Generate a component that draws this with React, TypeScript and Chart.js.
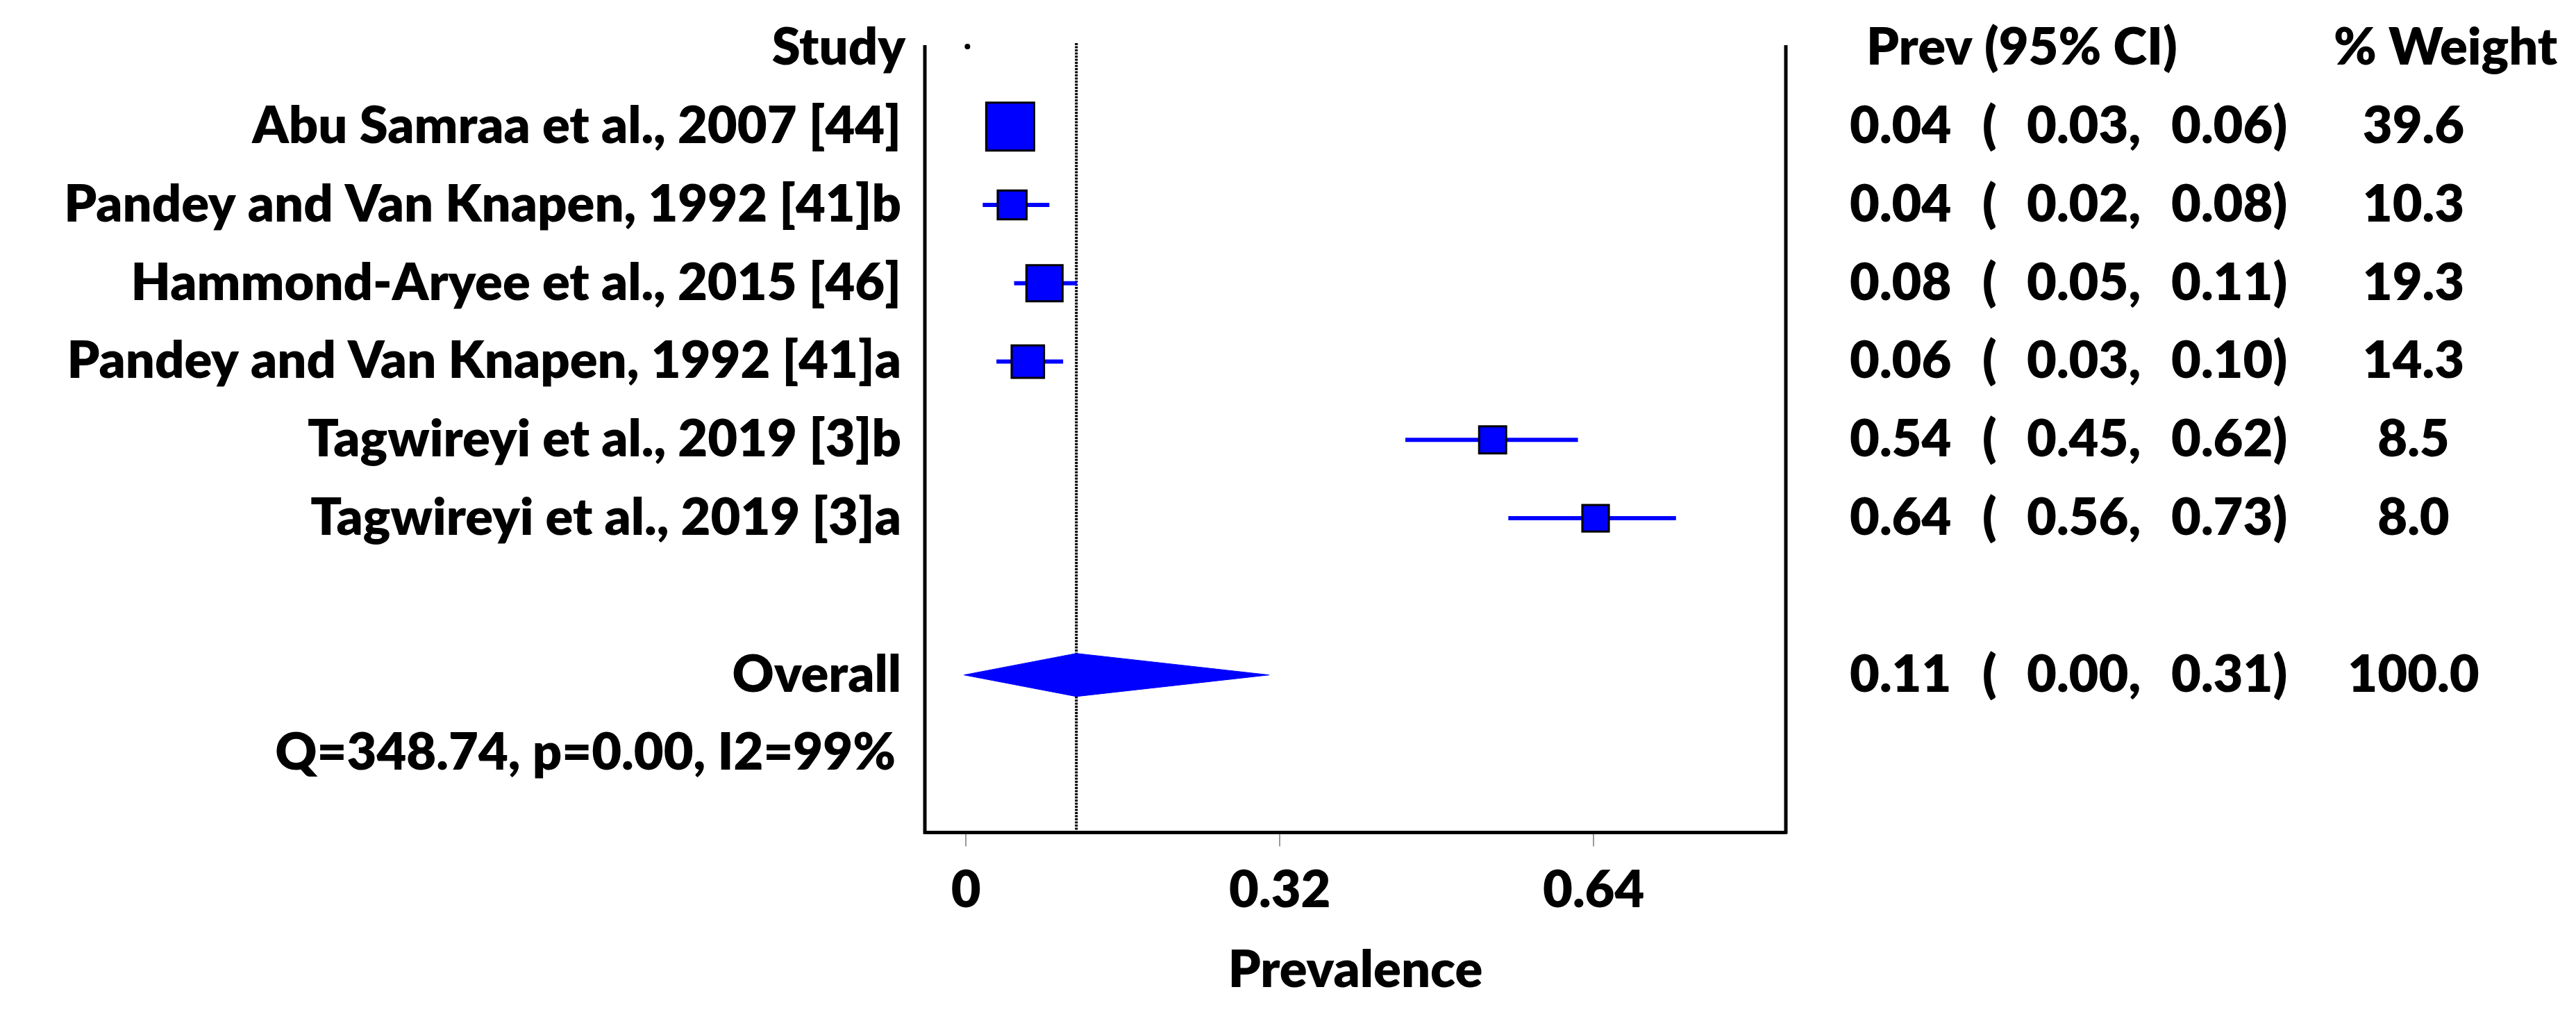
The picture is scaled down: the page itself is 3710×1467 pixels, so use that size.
import React, { useEffect, useRef } from "react";
import { Chart, registerables } from "chart.js";

Chart.register(...registerables);

// ---------- data ----------
const STUDIES = [
  "Abu Samraa et al., 2007 [44]",
  "Pandey and Van Knapen, 1992 [41]b",
  "Hammond-Aryee et al., 2015 [46]",
  "Pandey and Van Knapen, 1992 [41]a",
  "Tagwireyi et al., 2019 [3]b",
  "Tagwireyi et al., 2019 [3]a",
];
// plotted estimates / CI as read from the marks
const EST = [0.045, 0.047, 0.08, 0.063, 0.537, 0.642];
const LOWER = [0.03, 0.017, 0.049, 0.031, 0.448, 0.553];
const UPPER = [0.06, 0.085, 0.113, 0.099, 0.624, 0.724];
const WEIGHT = [39.6, 10.3, 19.3, 14.3, 8.5, 8.0];
// printed column texts
const PREV_TEXT = ["0.04", "0.04", "0.08", "0.06", "0.54", "0.64"];
const LOWER_TEXT = ["0.03", "0.02", "0.05", "0.03", "0.45", "0.56"];
const UPPER_TEXT = ["0.06", "0.08", "0.11", "0.10", "0.62", "0.73"];
const WEIGHT_TEXT = ["39.6", "10.3", "19.3", "14.3", "8.5", "8.0"];

const OVERALL_LABEL = "Overall";
const OVERALL_VALUES = [0.1125, -0.002, 0.309]; // estimate, lower, upper
const OVERALL_TEXT = ["0.11", "0.00", "0.31", "100.0"];
const HETEROGENEITY = "Q=348.74, p=0.00, I2=99%";

const HEADER_STUDY = "Study";
const HEADER_PREV = "Prev (95% CI)";
const HEADER_WEIGHT = "% Weight";
const X_TITLE = "Prevalence";
const X_TICKS = [0, 0.32, 0.64];
const X_TICK_LABELS = ["0", "0.32", "0.64"];

// ---------- style ----------
const FONT = "Lato";
const FW = "800";
const FS = 74;
const BLUE = "#0000ff";
const ROW_HEADER = 0;
const ROW_OVERALL = 8;
const ROW_HET = 9;
const DIAMOND_HALF = 0.275;

export default function App() {
  const ref = useRef<HTMLCanvasElement | null>(null);

  useEffect(() => {
    if (!ref.current) return;
    const rows = STUDIES.map((_, i) => i + 1);

    const ciData: any[] = [];
    rows.forEach((r, i) => {
      ciData.push({ x: LOWER[i], y: r });
      ciData.push({ x: UPPER[i], y: r });
      ciData.push({ x: UPPER[i], y: null });
    });
    const sqData = rows.map((r, i) => ({ x: EST[i], y: r }));
    const sqRadius = WEIGHT.map((w) => (16 + 8.9 * Math.sqrt(w) - 3) / (2 * Math.SQRT1_2));

    const [oe, ol, oh] = OVERALL_VALUES;
    const diamond = [
      { x: ol, y: ROW_OVERALL },
      { x: oe, y: ROW_OVERALL - DIAMOND_HALF },
      { x: oh, y: ROW_OVERALL },
      { x: oe, y: ROW_OVERALL + DIAMOND_HALF },
      { x: ol, y: ROW_OVERALL },
    ];

    const decor = {
      id: "forestDecor",
      beforeDatasetsDraw(chart: any) {
        const { ctx, chartArea, scales } = chart;
        const x = scales.x.getPixelForValue(oe);
        ctx.save();
        ctx.strokeStyle = "#000";
        ctx.lineWidth = 4;
        ctx.setLineDash([3, 1.5]);
        ctx.beginPath();
        ctx.moveTo(x, chartArea.top - 3);
        ctx.lineTo(x, chartArea.bottom);
        ctx.stroke();
        ctx.setLineDash([]);
        // small stub at zero
        const x0 = scales.x.getPixelForValue(0);
        ctx.fillStyle = "#000";
        ctx.beginPath();
        ctx.arc(x0 + 2, chartArea.top + 2, 4, 0, Math.PI * 2);
        ctx.fill();
        ctx.restore();
      },
      afterDraw(chart: any) {
        const { ctx, chartArea, scales } = chart;
        const y = scales.y;
        ctx.save();
        // frame verticals
        ctx.strokeStyle = "#000";
        ctx.lineWidth = 5;
        ctx.beginPath();
        ctx.moveTo(chartArea.left, chartArea.top);
        ctx.lineTo(chartArea.left, chartArea.bottom + 2);
        ctx.moveTo(chartArea.right, chartArea.top);
        ctx.lineTo(chartArea.right, chartArea.bottom + 2);
        ctx.stroke();

        ctx.fillStyle = "#000";
        ctx.font = `${FW} ${FS}px ${FONT}`;
        ctx.textBaseline = "middle";
        const LABEL_RIGHT = 1298;
        const COL_PREV = 2664;
        const COL_OPEN = 2855;
        const COL_LO = 2919;
        const COL_HI = 3127;
        const COL_W = 3476;

        // headers
        ctx.textAlign = "right";
        ctx.fillText(HEADER_STUDY, 1304, y.getPixelForValue(ROW_HEADER));
        ctx.textAlign = "left";
        ctx.fillText(HEADER_PREV, 2688, y.getPixelForValue(ROW_HEADER));
        ctx.fillText(HEADER_WEIGHT, 3361, y.getPixelForValue(ROW_HEADER));

        const drawRow = (r: number, label: string, prev: string, lo: string, hi: string, w: string) => {
          const py = y.getPixelForValue(r);
          ctx.textAlign = "right";
          ctx.fillText(label, LABEL_RIGHT, py);
          ctx.textAlign = "left";
          ctx.fillText(prev, COL_PREV, py);
          ctx.fillText("(", COL_OPEN, py);
          ctx.fillText(lo + ",", COL_LO, py);
          ctx.fillText(hi + ")", COL_HI, py);
          ctx.textAlign = "center";
          ctx.fillText(w, COL_W, py);
        };
        rows.forEach((r, i) =>
          drawRow(r, STUDIES[i], PREV_TEXT[i], LOWER_TEXT[i], UPPER_TEXT[i], WEIGHT_TEXT[i])
        );
        drawRow(ROW_OVERALL, OVERALL_LABEL, OVERALL_TEXT[0], OVERALL_TEXT[1], OVERALL_TEXT[2], OVERALL_TEXT[3]);
        ctx.textAlign = "right";
        ctx.fillText(HETEROGENEITY, 1290, y.getPixelForValue(ROW_HET));
        ctx.restore();
      },
    };

    const chart = new Chart(ref.current, {
      type: "scatter",
      data: {
        datasets: [
          {
            label: "diamond",
            data: diamond,
            showLine: true,
            fill: "shape",
            backgroundColor: BLUE,
            borderColor: BLUE,
            borderWidth: 1,
            pointRadius: 0,
            order: 2,
          } as any,
          {
            label: "ci",
            data: ciData,
            showLine: true,
            spanGaps: false,
            borderColor: BLUE,
            borderWidth: 6,
            borderCapStyle: "butt",
            pointRadius: 0,
            order: 1,
          } as any,
          {
            label: "est",
            data: sqData,
            pointStyle: "rect",
            pointRadius: sqRadius,
            pointHoverRadius: sqRadius,
            backgroundColor: BLUE,
            borderColor: "#000",
            borderWidth: 3,
            order: 0,
          } as any,
        ],
      },
      options: {
        animation: false,
        responsive: false,
        devicePixelRatio: 1,
        layout: { padding: { left: 1332, right: 1138, top: 65, bottom: 25 } },
        plugins: { legend: { display: false }, tooltip: { enabled: false } },
        scales: {
          x: {
            type: "linear",
            min: -0.042,
            max: 0.836,
            afterBuildTicks: (ax: any) => {
              ax.ticks = X_TICKS.map((v) => ({ value: v }));
            },
            ticks: {
              callback: (v: any) => {
                const i = X_TICKS.indexOf(Number(v));
                return i >= 0 ? X_TICK_LABELS[i] : "";
              },
              font: { family: FONT, weight: FW, size: FS },
              color: "#000",
              padding: 19,
              maxRotation: 0,
              autoSkip: false,
            },
            grid: { drawOnChartArea: false, drawTicks: true, tickLength: 20, color: "#9a9a9a", lineWidth: 2 },
            border: { display: true, color: "#000", width: 5 },
            title: {
              display: true,
              text: X_TITLE,
              font: { family: FONT, weight: FW, size: FS },
              color: "#000",
              padding: { top: 8, bottom: 0 },
            },
          },
          y: { type: "linear", display: false, min: -0.039, max: 10.01, reverse: true },
        },
      } as any,
      plugins: [decor],
    });
    return () => chart.destroy();
  }, []);

  return (
    <div style={{ position: "absolute", left: 0, top: 0, width: 3710, height: 1467, background: "#fff" }}>
      <canvas ref={ref} width={3710} height={1467} style={{ display: "block", width: 3710, height: 1467 }} />
    </div>
  );
}
